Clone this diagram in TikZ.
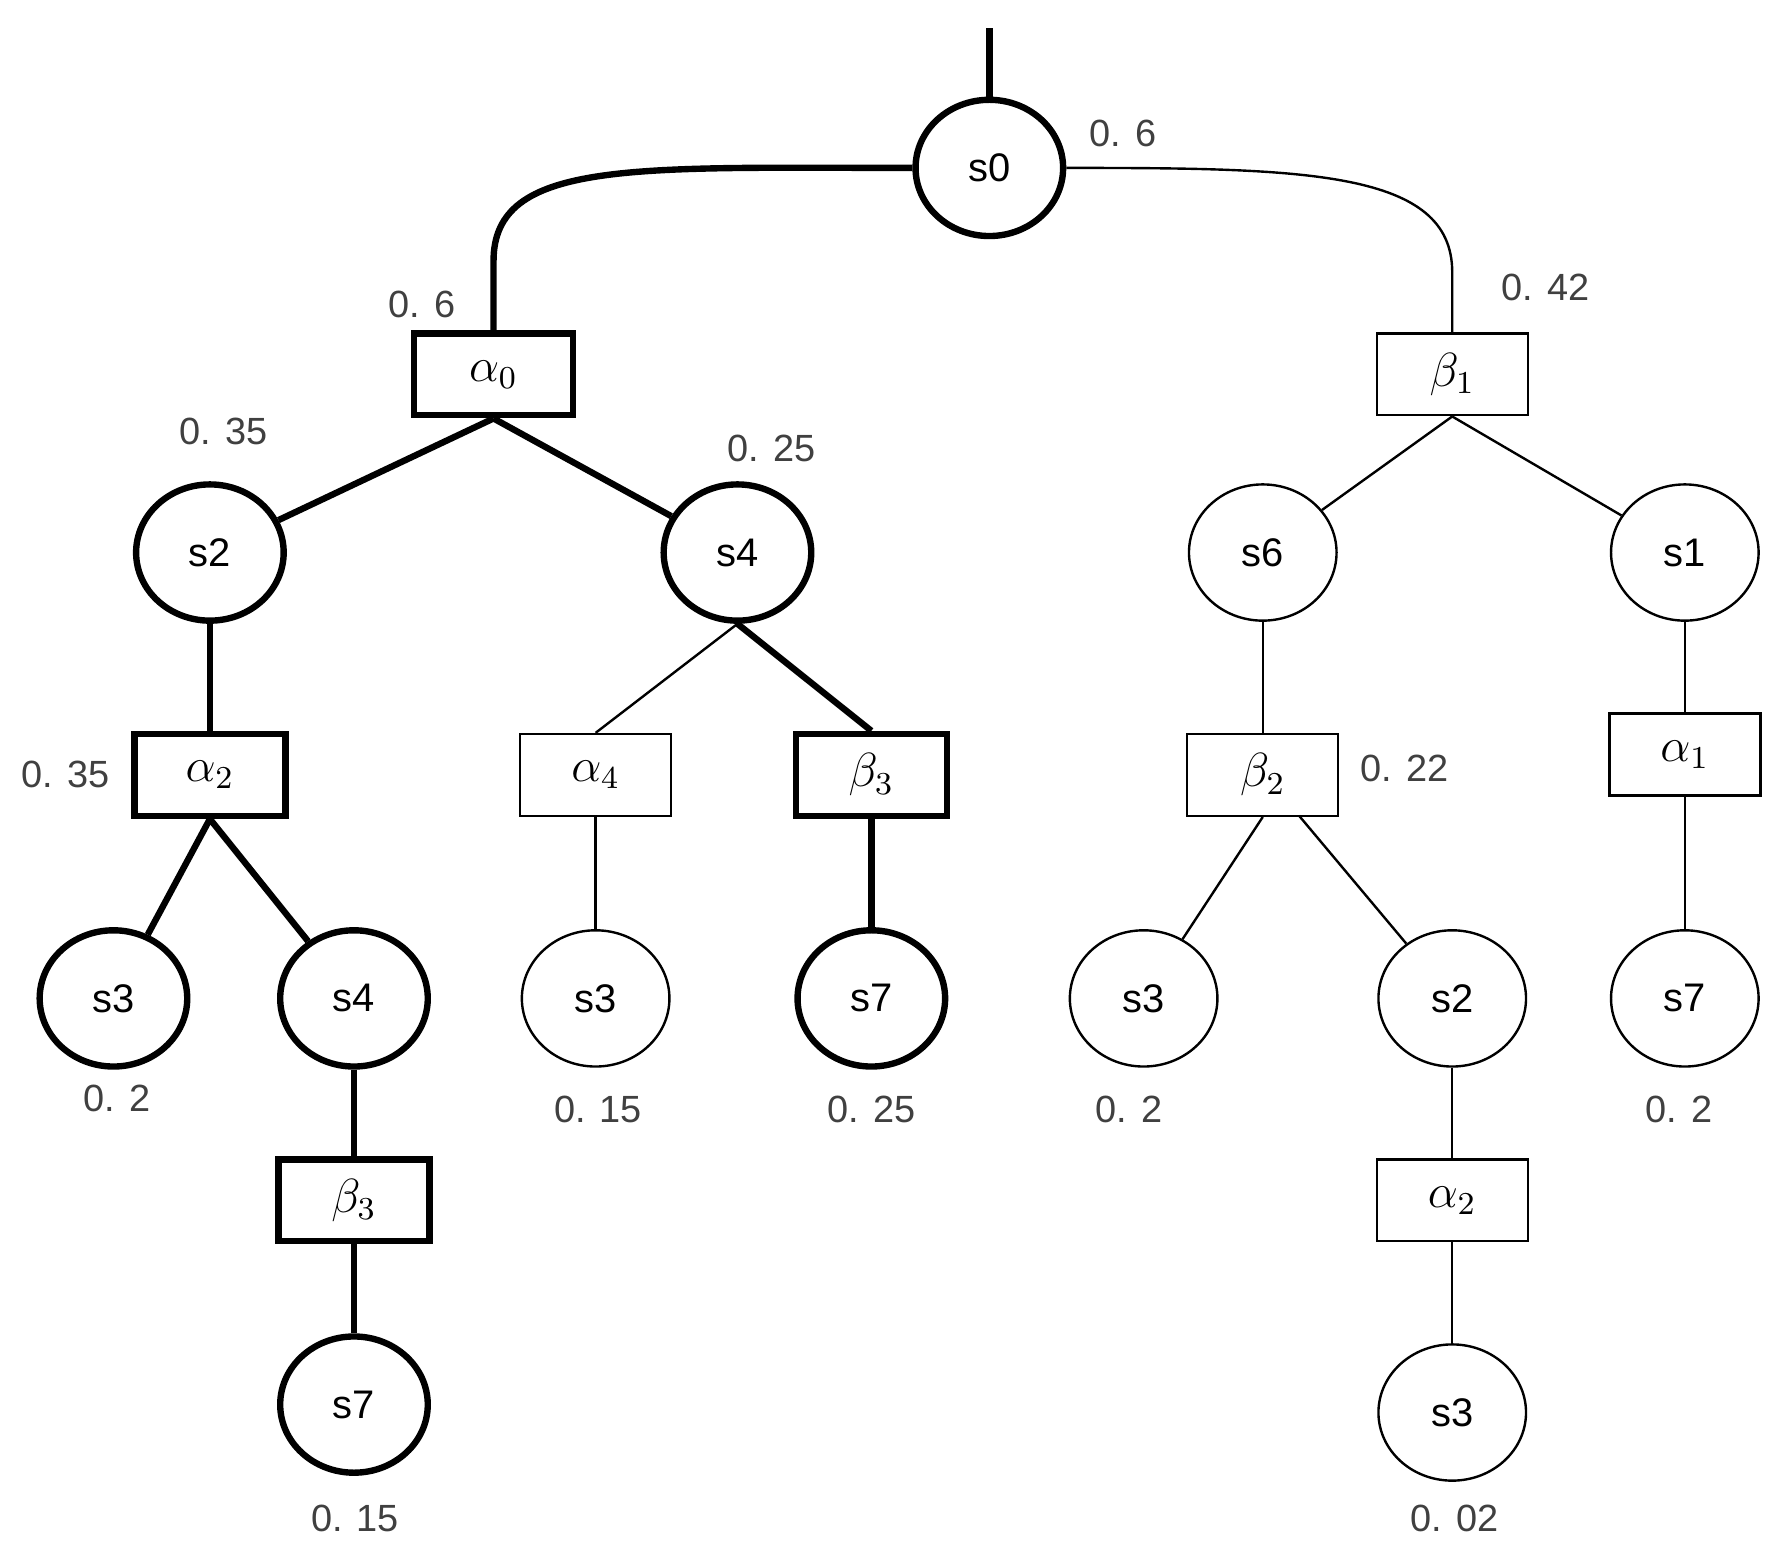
\documentclass[tikz,border=0pt]{standalone}
\usepackage{fontspec}
\setmainfont{Liberation Sans}
\usetikzlibrary{shapes.geometric}
\begin{document}
\begin{tikzpicture}[x=0.01cm,y=-0.01cm,
 st/.style={ellipse,draw,minimum width=1.3cm,minimum height=1.2cm,inner sep=0pt,font=\fontsize{10}{12}\selectfont},
 ac/.style={rectangle,draw,minimum width=1.33cm,minimum height=0.72cm,inner sep=0pt,font=\fontsize{12}{14}\selectfont},
 tk/.style={line width=1.6pt},
 tn/.style={line width=0.6pt},
 lb/.style={font=\fontsize{9.5}{11}\selectfont,text=black!75}]
\useasboundingbox (0,0) rectangle (1568,1379);
\node[st,tk] (s0) at (872,148) {s0};
\node[ac,tk,minimum width=1.4cm] (a0) at (435,330) {$\alpha_0$};
\node[ac,tn] (b1) at (1280,330) {$\beta_1$};
\node[st,tk] (s2) at (185,487) {s2};
\node[st,tk] (s4) at (650,487) {s4};
\node[st,tn] (s6) at (1113,487) {s6};
\node[st,tn] (s1) at (1485,487) {s1};
\node[ac,tk] (a2) at (185,683) {$\alpha_2$};
\node[ac,tn] (a4) at (525,683) {$\alpha_4$};
\node[ac,tk] (b3) at (768,683) {$\beta_3$};
\node[ac,tn] (b2) at (1113,683) {$\beta_2$};
\node[ac,tn] (a1) at (1485,665) {$\alpha_1$};
\node[st,tk] (s3a) at (100,880) {s3};
\node[st,tk] (s4b) at (312,880) {s4};
\node[st,tn] (s3b) at (525,880) {s3};
\node[st,tk] (s7a) at (768,880) {s7};
\node[st,tn] (s3c) at (1008,880) {s3};
\node[st,tn] (s2b) at (1280,880) {s2};
\node[st,tn] (s7b) at (1485,880) {s7};
\node[ac,tk] (b3b) at (312,1058) {$\beta_3$};
\node[ac,tn] (a2b) at (1280,1058) {$\alpha_2$};
\node[st,tk] (s7c) at (312,1238) {s7};
\node[st,tn] (s3d) at (1280,1245) {s3};
\coordinate (top) at (872,25);
\coordinate (bq) at (1145,719);
\draw[tk] (top) -- (s0.north);
\draw[tk] (s0.west) .. controls (560,148) and (435,140) .. (435,230) -- (a0.north);
\draw[tn] (s0.east) .. controls (1150,148) and (1280,150) .. (1280,240) -- (b1.north);
\draw[tk] (a0.south) -- (s2);
\draw[tk] (a0.south) -- (s4);
\draw[tn] (b1.south) -- (s6);
\draw[tn] (b1.south) -- (s1);
\draw[tk] (s2) -- (a2);
\draw[tn] (s4.south) -- (a4.north);
\draw[tk] (s4.south) -- (b3.north);
\draw[tn] (s6) -- (b2);
\draw[tn] (s1) -- (a1);
\draw[tk] (a2.south) -- (s3a);
\draw[tk] (a2.south) -- (s4b);
\draw[tn] (a4) -- (s3b);
\draw[tk] (b3) -- (s7a);
\draw[tn] (b2.south) -- (s3c);
\draw[tn] (bq) -- (s2b);
\draw[tn] (a1) -- (s7b);
\draw[tk] (s4b) -- (b3b);
\draw[tk] (b3b) -- (s7c);
\draw[tn] (s2b) -- (a2b);
\draw[tn] (a2b) -- (s3d);
\node[lb] (l1) at (990,118) {0. 6};
\node[lb] (l2) at (372,268) {0. 6};
\node[lb] (l3) at (197,380) {0. 35};
\node[lb] (l4) at (680,395) {0. 25};
\node[lb] (l5) at (1362,253) {0. 42};
\node[lb] (l6) at (58,683) {0. 35};
\node[lb] (l7) at (1238,677) {0. 22};
\node[lb] (l8) at (103,968) {0. 2};
\node[lb] (l9) at (527,978) {0. 15};
\node[lb] (l10) at (768,978) {0. 25};
\node[lb] (l11) at (995,978) {0. 2};
\node[lb] (l12) at (1480,978) {0. 2};
\node[lb] (l13) at (313,1338) {0. 15};
\node[lb] (l14) at (1282,1338) {0. 02};
\end{tikzpicture}
\end{document}
